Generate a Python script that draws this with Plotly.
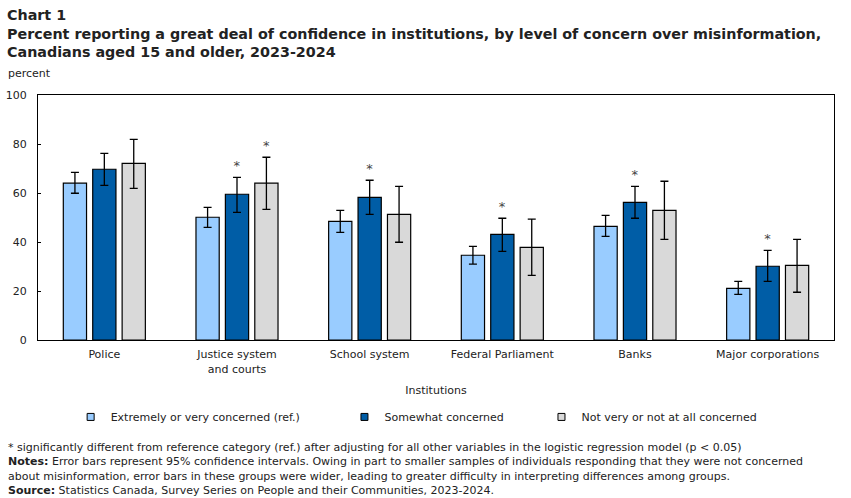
import plotly.graph_objects as go

categories = ["Police", "Justice system<br>and courts", "School system",
              "Federal Parliament", "Banks", "Major corporations"]

series_names = ["Extremely or very concerned (ref.)", "Somewhat concerned",
                "Not very or not at all concerned"]

extreme = [64.0, 50.1, 48.4, 34.6, 46.4, 21.1]
extreme_hi = [68.4, 54.1, 52.9, 38.2, 50.9, 23.9]
extreme_lo = [59.9, 46.0, 43.9, 31.0, 42.3, 18.6]

somewhat = [69.7, 59.5, 58.2, 43.1, 56.2, 30.1]
somewhat_hi = [76.2, 66.4, 65.2, 49.7, 62.7, 36.6]
somewhat_lo = [63.1, 52.1, 51.3, 36.2, 49.7, 23.9]

notvery = [72.1, 64.0, 51.3, 37.8, 52.9, 30.5]
notvery_hi = [81.9, 74.6, 62.7, 49.3, 64.8, 41.1]
notvery_lo = [61.9, 53.3, 39.9, 26.4, 41.1, 19.5]

# significance flags (*)
somewhat_sig = [False, True, True, True, True, True]
notvery_sig = [False, True, False, False, False, False]

colors = ["#99CCFF", "#005DA6", "#D9D9D9"]

FONT = "DejaVu Sans, Verdana, sans-serif"
TXT = "#222222"

fig = go.Figure()

data = [(extreme, extreme_hi, extreme_lo, None),
        (somewhat, somewhat_hi, somewhat_lo, somewhat_sig),
        (notvery, notvery_hi, notvery_lo, notvery_sig)]

for i, (vals, hi, lo, sig) in enumerate(data):
    fig.add_trace(go.Bar(
        x=categories, y=vals, name=series_names[i],
        marker=dict(color=colors[i], line=dict(color="black", width=1.2)),
        error_y=dict(type="data", symmetric=False,
                     array=[h - v for h, v in zip(hi, vals)],
                     arrayminus=[v - l for v, l in zip(vals, lo)],
                     color="black", thickness=1.3, width=4),
        offsetgroup=str(i), showlegend=False,
    ))
    # legend proxy
    fig.add_trace(go.Scatter(
        x=[None], y=[None], mode="markers", name=series_names[i],
        marker=dict(symbol="square", size=7, color=colors[i],
                    line=dict(color="black", width=1)),
        legend=["legend", "legend2", "legend3"][i], showlegend=True,
    ))

# star markers above significant error bars
for i, (vals, hi, lo, sig) in enumerate(data):
    if sig is None:
        continue
    xs = [c for c, s in zip(categories, sig) if s]
    ys = [h for h, s in zip(hi, sig) if s]
    fig.add_trace(go.Bar(
        x=xs, y=[0] * len(xs), offsetgroup=str(i), showlegend=False,
        marker=dict(color="rgba(0,0,0,0)", line=dict(width=0)),
        base=[y + 0.5 for y in ys],
        text=["*"] * len(xs), textposition="outside",
        textfont=dict(family=FONT, size=13, color="#444444"),
        cliponaxis=False, hoverinfo="skip",
    ))

legend_common = dict(orientation="h", yanchor="middle", xanchor="left",
                     font=dict(family=FONT, size=11, color=TXT),
                     bgcolor="rgba(0,0,0,0)", itemwidth=30, tracegroupgap=0)

LY = -0.314
fig.update_layout(
    width=851, height=498,
    margin=dict(l=38, r=17, t=95, b=158, autoexpand=False),
    paper_bgcolor="white", plot_bgcolor="white",
    barmode="group", bargap=0.335, bargroupgap=0.21,
    font=dict(family=FONT, size=11, color=TXT),
    legend=dict(x=0.041, y=LY, **legend_common),
    legend2=dict(x=0.385, y=LY, **legend_common),
    legend3=dict(x=0.6325, y=LY, **legend_common),
    xaxis=dict(showline=True, linecolor="black", linewidth=1.3, mirror=True,
               ticks="", ticklabelstandoff=4, automargin=False,
               tickfont=dict(family=FONT, size=11, color=TXT),
               title=dict(text="Institutions", standoff=11,
                          font=dict(family=FONT, size=11, color=TXT))),
    yaxis=dict(range=[0, 100], dtick=20, showgrid=False, zeroline=False,
               showline=True, linecolor="black", linewidth=1.3, mirror=True,
               ticks="inside", ticklen=3, tickcolor="black",
               ticklabelstandoff=8, automargin=False,
               tickfont=dict(family=FONT, size=11, color=TXT)),
)

fig.add_annotation(xref="paper", yref="paper", x=-0.0415, y=1.367,
                   xanchor="left", yanchor="top", align="left", showarrow=False,
                   text="<b>Chart 1<br>Percent reporting a great deal of confidence in institutions, by level of concern over misinformation,<br>Canadians aged 15 and older, 2023-2024</b>",
                   font=dict(family=FONT, size=14.3, color=TXT))
fig.add_annotation(xref="paper", yref="paper", x=-0.0405, y=1.086,
                   xanchor="left", yanchor="middle", showarrow=False,
                   text="percent", font=dict(family=FONT, size=11, color=TXT))
fig.add_annotation(xref="paper", yref="paper", x=-0.0405, y=-0.405,
                   xanchor="left", yanchor="top", align="left", showarrow=False,
                   text="* significantly different from reference category (ref.) after adjusting for all other variables in the logistic regression model (p < 0.05)<br>"
                        "<b>Notes:</b> Error bars represent 95% confidence intervals. Owing in part to smaller samples of individuals responding that they were not concerned<br>"
                        "about misinformation, error bars in these groups were wider, leading to greater difficulty in interpreting differences among groups.<br>"
                        "<b>Source:</b> Statistics Canada, Survey Series on People and their Communities, 2023-2024.",
                   font=dict(family=FONT, size=11, color=TXT))

fig.write_html("out.html")
